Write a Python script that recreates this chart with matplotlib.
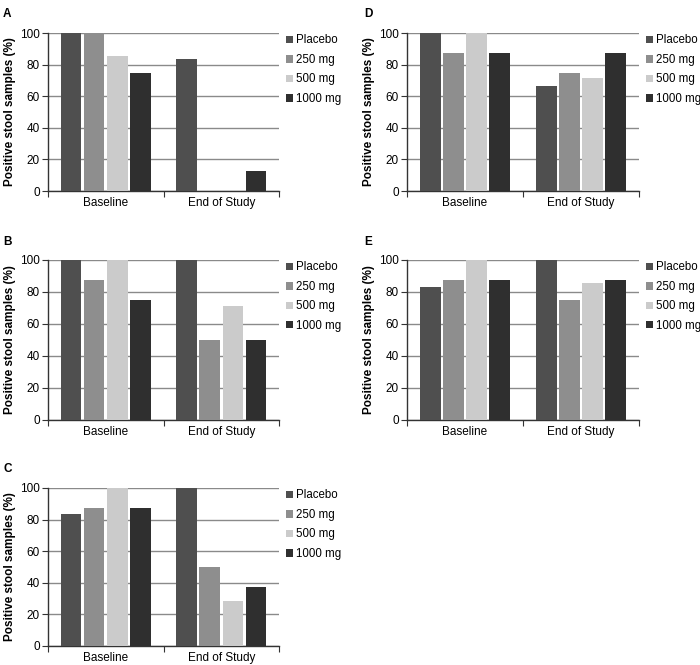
import matplotlib
matplotlib.use("Agg")
import matplotlib.pyplot as plt
import numpy as np

plt.rcParams['font.family'] = ['Liberation Sans', 'DejaVu Sans']

groups = ["Placebo", "250 mg", "500 mg", "1000 mg"]
categories = ["Baseline", "End of Study"]
colors = ["#4f4f4f", "#8e8e8e", "#cbcbcb", "#2f2f2f"]

panel_A = {"Baseline": [100, 100, 85.7, 75.0], "End of Study": [83.3, 0, 0, 12.5]}
panel_B = {"Baseline": [100, 87.5, 100, 75.0], "End of Study": [100, 50.0, 71.4, 50.0]}
panel_C = {"Baseline": [83.3, 87.5, 100, 87.5], "End of Study": [100, 50.0, 28.6, 37.5]}
panel_D = {"Baseline": [100, 87.5, 100, 87.5], "End of Study": [66.7, 75.0, 71.4, 87.5]}
panel_E = {"Baseline": [83.3, 87.5, 100, 87.5], "End of Study": [100, 75.0, 85.7, 87.5]}

W, H = 700, 665
fig = plt.figure(figsize=(W / 100, H / 100), dpi=100)

# (letter, data, left px, right px, top(100) px, bottom(0) px, letter x, letter y)
panels = [
    ("A", panel_A, 48, 279, 33, 191, 3, 8),
    ("B", panel_B, 48, 279, 260, 420, 3, 236),
    ("C", panel_C, 48, 279, 488, 646, 3, 463),
    ("D", panel_D, 407, 639, 33, 191, 364, 8),
    ("E", panel_E, 407, 639, 260, 420, 364, 236),
]

step = 0.2
width = 0.178
for letter, data, l, r, t, b, lx, ly in panels:
    ax = fig.add_axes([l / W, 1 - b / H, (r - l) / W, (b - t) / H])
    x = np.arange(len(categories))
    for i, g in enumerate(groups):
        vals = [data[c][i] for c in categories]
        ax.bar(x + (i - 1.5) * step, vals, width=width, color=colors[i],
               label=g, zorder=3)
    ax.set_xlim(-0.5, 1.5)
    ax.set_ylim(0, 100)
    ax.set_yticks([0, 20, 40, 60, 80, 100])
    ax.yaxis.grid(True, color="#8a8a8a", linewidth=1.0, zorder=0)
    ax.set_axisbelow(True)
    ax.set_xticks([-0.5, 0.5, 1.5])
    ax.set_xticklabels([])
    ax.set_xticks(x, minor=True)
    ax.set_xticklabels(categories, minor=True)
    ax.tick_params(axis='x', which='minor', length=0, labelsize=8.5, pad=4)
    ax.tick_params(axis='x', which='major', length=4, direction='out', color="#333333")
    ax.tick_params(axis='y', length=4, direction='out', labelsize=8.5, color="#333333", pad=2)
    for s in ["top", "right"]:
        ax.spines[s].set_visible(False)
    for s in ["left", "bottom"]:
        ax.spines[s].set_color("#333333")
        ax.spines[s].set_linewidth(1.0)
    ax.set_ylabel("Positive stool samples (%)", fontweight="bold", fontsize=8.5, labelpad=3)
    ax.legend(loc="upper left", bbox_to_anchor=(1.01, 1.02), frameon=False,
              fontsize=8.3, handlelength=0.6, handleheight=0.6, handletextpad=0.25,
              labelspacing=0.65, borderaxespad=0)
    fig.text(lx / W, 1 - ly / H, letter, fontweight="bold", fontsize=8.5,
             ha="left", va="top")

fig.savefig("out.png", dpi=100)
